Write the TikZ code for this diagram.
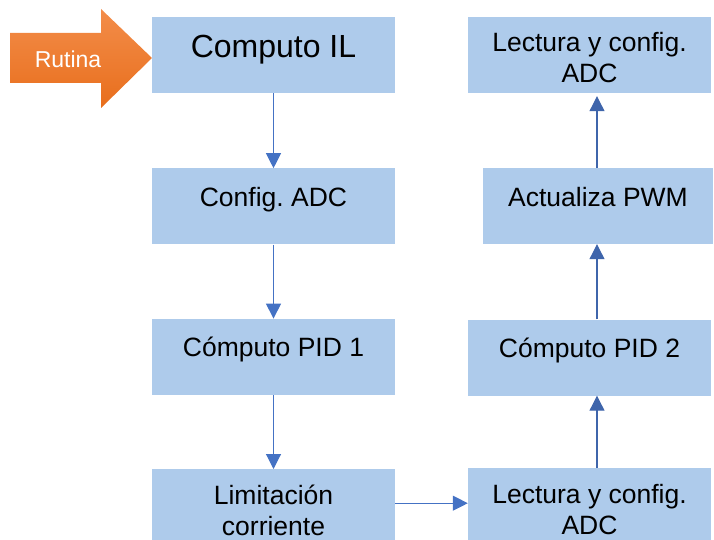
\documentclass[tikz,border=0pt]{standalone}
\usepackage{fontspec}
\setmainfont{Liberation Sans}
\usepackage{tikz}
\usetikzlibrary{positioning}
\usetikzlibrary{arrows.meta}

\definecolor{boxblue}{HTML}{AECBEB}
\definecolor{linkblue}{HTML}{4472C4}
\definecolor{uplinkblue}{HTML}{3F65AB}
\definecolor{rutinatop}{HTML}{F38D4A}
\definecolor{rutinabottom}{HTML}{E86E1C}

\frenchspacing

\tikzset{
	blockbox/.style = {fill=boxblue, minimum width=243pt, minimum height=76pt,
		inner sep=0pt, align=center, font=\fontsize{26.5}{31}\selectfont},
	oneline/.style  = {text height=13pt, text depth=13pt},
	twoline/.style  = {text height=56pt, text depth=0pt},
	link/.style     = {draw=linkblue, line width=1.1pt,
		-{Triangle[length=15pt,width=15pt]}},
	uplink/.style   = {link, draw=uplinkblue},
}

\begin{document}
\begin{tikzpicture}[x=1pt, y=-1pt]
	
	% ------------------------------------------------
	% Ensure the dimensions of graphic are appropriate
	\useasboundingbox (0,0) rectangle (714,540);
	
	% ------------------------------------------------
	% Start arrow
	\shade[top color=rutinatop, bottom color=rutinabottom]
		(10,33) -- (101,33) -- (101,9) -- (152,58) -- (101,108) -- (101,83) -- (10,83) -- cycle;
	\node[text=white, font=\fontsize{23}{27}\selectfont] (Rutina) at (68,59) {Rutina};
	
	% ------------------------------------------------
	% Left column
	\node[blockbox, text height=18pt, text depth=12pt,
		font=\fontsize{32}{36}\selectfont] (IL) at (273.5,55) {Computo IL};
	\node[blockbox, oneline, below=75pt of IL]   (Cfg)  {Config. ADC};
	\node[blockbox, oneline, below=74pt of Cfg]  (PID1) {Cómputo PID 1};
	\node[blockbox, twoline, below=74pt of PID1] (Lim)  {Limitación\\corriente};
	
	% ----------------
	% Right column
	\coordinate (RightLane) at (597,0);
	
	\node[blockbox, twoline] (LecA) at (589.5,55) {Lectura y config.\\ADC};
	\node[blockbox, oneline, minimum width=230pt] (PWM) at (598,206) {Actualiza PWM};
	\node[blockbox, oneline] (PID2) at (589.5,357.5) {Cómputo PID 2};
	\node[blockbox, twoline] (LecB) at (589.5,506) {Lectura y config.\\ADC};
	
	%%%%%%%%%%%%%%%%%%%%%%%%%%%%%%%%%%%%%%%%%
	% Connectors
	\draw[link] (IL)   -- (Cfg);
	\draw[link] (Cfg)  -- (PID1);
	\draw[link] (PID1) -- (Lim);
	
	\draw[link] ([yshift=4pt]Lim.east) -- ([yshift=4pt]Lim.east -| LecB.west);
	
	\draw[uplink] (LecB.north -| RightLane) -- (PID2.south -| RightLane);
	\draw[uplink] (PID2.north -| RightLane) -- (PWM.south -| RightLane);
	\draw[uplink, shorten >=3pt] (PWM.north -| RightLane) -- (LecA.south -| RightLane);
	
\end{tikzpicture}
\end{document}
